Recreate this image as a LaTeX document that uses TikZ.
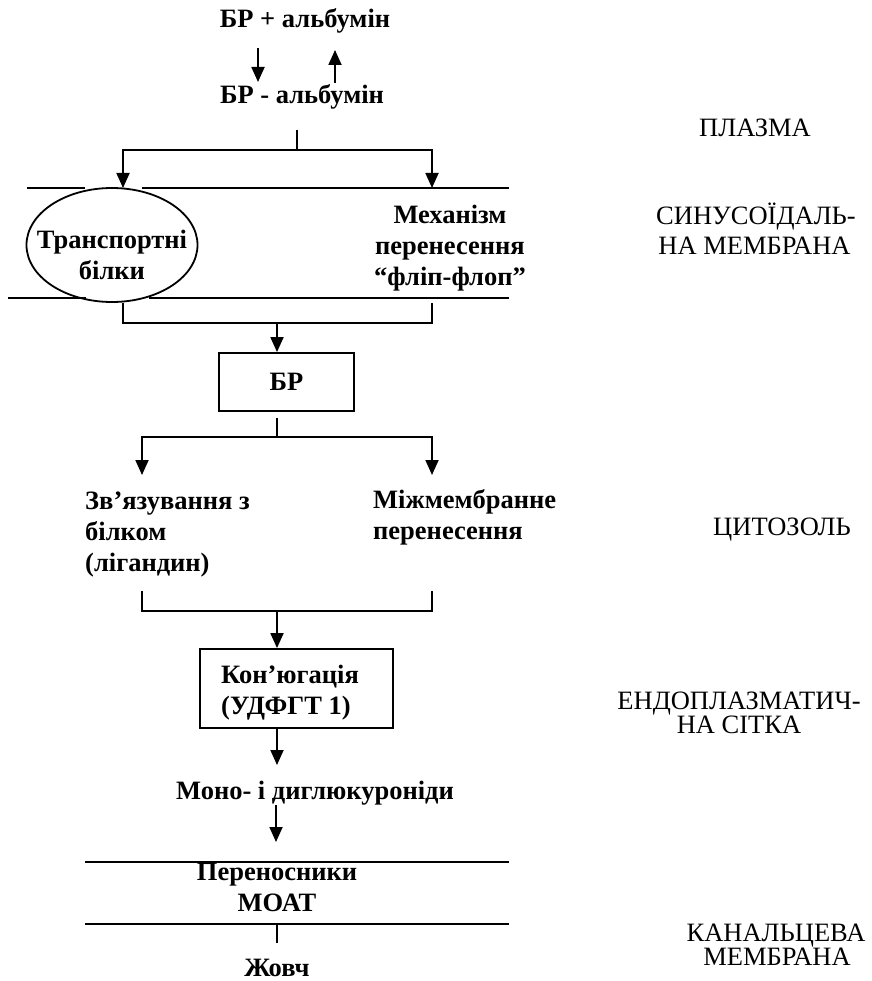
\documentclass[tikz,border=0pt]{standalone}
\usepackage{fontspec}
\setmainfont{Liberation Serif}
\newfontfamily\labfont{Liberation Serif}
\usetikzlibrary{arrows.meta,shapes.geometric}
\begin{document}
\begin{tikzpicture}[x=1pt,y=-1pt,
  ln/.style={line width=1.8pt},
  tipx/.tip={Triangle[width=13pt,length=15pt]},
  arr/.style={ln,-tipx},
  bt/.style={font=\bfseries\fontsize{26.5}{31}\selectfont, inner sep=0pt, align=center},
  bl/.style={font=\bfseries\fontsize{26.5}{31}\selectfont, inner sep=0pt, align=left},
  lab/.style={font=\labfont\mdseries\fontsize{26.5}{27}\selectfont, inner sep=0pt, text height=17.5pt, text depth=0pt},
  boxst/.style={draw, line width=1.8pt, inner sep=0pt}]
\useasboundingbox (0,0) rectangle (871,981);

% ---- text nodes (main column)
\node[bt] (t1) at (305,21) {\strut БР + альбумін};
\node[bt] (t2) at (302,97) {\strut БР - альбумін};
\node[ellipse, draw, line width=1.8pt, minimum width=171pt, minimum height=114pt, inner sep=0pt] (tb) at (112,245) {};
\node[bt] (tbt) at (112,257.5) {\strut Транспортні\\\strut білки};
\node[bt] (mech) at (450,248) {\strut Механізм\\\strut перенесення\\\strut “фліп-флоп”};
\node[boxst, bt, minimum width=135pt, minimum height=58pt] (br) at (286.5,382) {БР};
\node[bl, anchor=west] (bind) at (85,534) {\strut Зв’язування з\\\strut білком\\\strut (лігандин)};
\node[bl, anchor=west] (inter) at (373,518) {\strut Міжмембранне\\\strut перенесення};
\node[boxst, minimum width=193pt, minimum height=79pt] (conj) at (296.5,688.5) {};
\node[bl, anchor=west] (conjt) at (221,692.5) {\strut Кон’югація\\\strut (УДФГТ 1)};
\node[bt] (mono) at (315,793) {\strut Моно- і диглюкуроніди};
\node[bt] (moat) at (277,890) {\strut Переносники\\\strut МОАТ};
\node[bt] (bile) at (277,970) {\strut Жовч};

% ---- right-hand labels
\node[lab] (l1) at (755,128) {ПЛАЗМА};
\node[lab] (l2a) at (756,216) {СИНУСОЇДАЛЬ-};
\node[lab] (l2b) at (754.5,246) {НА МЕМБРАНА};
\node[lab] (l3) at (782,527) {ЦИТОЗОЛЬ};
\node[lab] (l4a) at (739,701) {ЕНДОПЛАЗМАТИЧ-};
\node[lab] (l4b) at (739,725) {НА СІТКА};
\node[lab] (l5a) at (776,933) {КАНАЛЬЦЕВА};
\node[lab] (l5b) at (777,957) {МЕМБРАНА};

% ---- coordinates
\coordinate (a1s) at (258,48);  \coordinate (a1e) at (258,82);
\coordinate (a2s) at (335,83);  \coordinate (a2e) at (335,50);
\coordinate (s1a) at (297,130); \coordinate (s1b) at (297,150);
\coordinate (s1l) at (123,150); \coordinate (s1r) at (432,150);
\coordinate (um1) at (27,188);  \coordinate (um2) at (85,188);
\coordinate (um3) at (142,188); \coordinate (um4) at (509,188);
\coordinate (lm1) at (8,298);   \coordinate (lm2) at (86,298);
\coordinate (lm3) at (149,298); \coordinate (lm4) at (509,298);
\coordinate (b1l) at (123,303); \coordinate (b1r) at (432,303);
\coordinate (b1m) at (277,323);
\coordinate (s2a) at (277,418); \coordinate (s2b) at (277,437);
\coordinate (s2l) at (142,437); \coordinate (s2r) at (432,437);
\coordinate (s2le) at (142,475); \coordinate (s2re) at (432,475);
\coordinate (b2l) at (142,591); \coordinate (b2r) at (432,591);
\coordinate (b2m) at (277,611);
\coordinate (c1s) at (277,728); \coordinate (c1e) at (277,765);
\coordinate (c2s) at (276,805); \coordinate (c2e) at (276,842);
\coordinate (cm1) at (85,862);  \coordinate (cm2) at (509,862);
\coordinate (cm3) at (85,924);  \coordinate (cm4) at (509,924);
\coordinate (c3s) at (277,924); \coordinate (c3e) at (277,943);

% ---- connectors
\draw[arr] (a1s) -- (a1e);
\draw[arr] (a2s) -- (a2e);
\draw[ln] (s1a) -- (s1b);
\draw[ln, tipx-tipx] (s1l |- um1) -- (s1l) -- (s1r) -- (s1r |- um1);
\draw[ln] (um1) -- (um2) (um3) -- (um4);
\draw[ln] (lm1) -- (lm2) (lm3) -- (lm4);
\draw[ln] (b1l) -- (b1l |- b1m) -- (b1r |- b1m) -- (b1r);
\draw[arr] (b1m) -- (b1m |- br.north);
\draw[ln] (s2a) -- (s2b);
\draw[ln, tipx-tipx] (s2le) -- (s2l) -- (s2r) -- (s2re);
\draw[ln] (b2l) -- (b2l |- b2m) -- (b2r |- b2m) -- (b2r);
\draw[arr] (b2m) -- (b2m |- conj.north);
\draw[arr] (c1s) -- (c1e);
\draw[arr] (c2s) -- (c2e);
\draw[ln] (cm1) -- (cm2) (cm3) -- (cm4);
\draw[ln] (c3s) -- (c3e);
\end{tikzpicture}
\end{document}
